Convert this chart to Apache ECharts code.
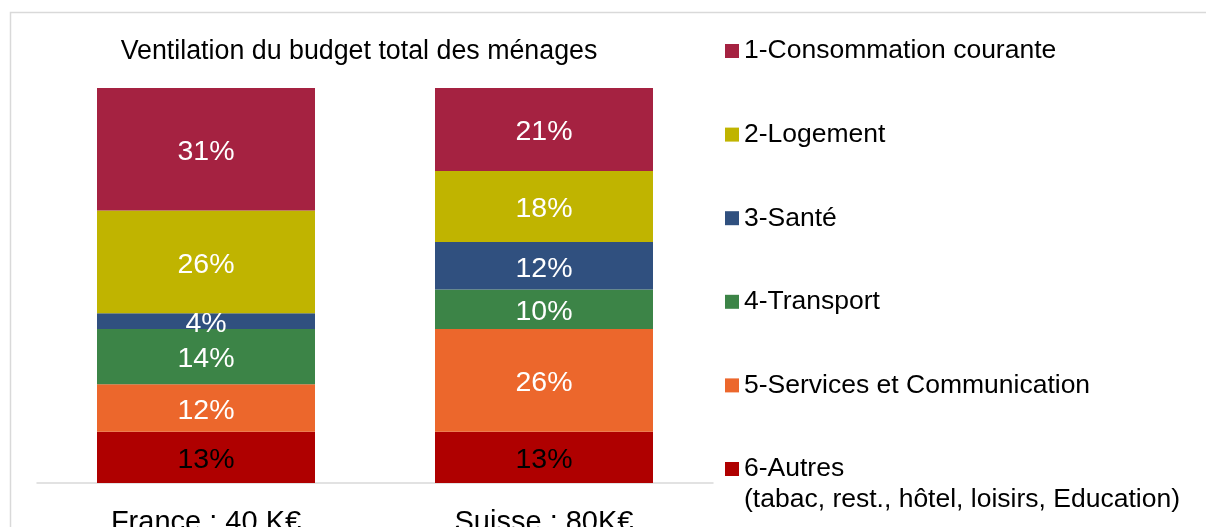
<!DOCTYPE html>
<html>
<head>
<meta charset="utf-8">
<script src="https://cdn.jsdelivr.net/npm/echarts@6/dist/echarts.min.js"></script>
<style>
  html, body { margin: 0; padding: 0; background: #fff; }
  #budget_chart { width: 1206px; height: 527px; }
</style>
</head>
<body>
<div id="budget_chart"></div>
<script>
// données
let pays = ['France : 40 K€', 'Suisse : 80K€']
let postes = ['1-Consommation courante', '2-Logement', '3-Santé', '4-Transport', '5-Services et Communication', '6-Autres']
let noteAutres = '(tabac, rest., hôtel, loisirs, Education)'
let partFrance = [31, 26, 4, 14, 12, 13]
let partSuisse = [21, 18, 12, 10, 26, 13]
let couleurs = ['#a52241', '#c0b400', '#30507f', '#3c8447', '#ec672c', '#af0000']

let police = '"Liberation Sans", Arial, sans-serif'
let myChart = echarts.init(document.getElementById('budget_chart'))

// empilement : le dernier poste en bas
let series = []
for (let i = postes.length - 1; i >= 0; i--) {
  series.push({
    name: postes[i],
    type: 'bar',
    stack: 'budget',
    barWidth: 218,
    itemStyle: { color: couleurs[i] },
    label: {
      show: true,
      position: 'inside',
      offset: [0, 3],
      formatter: '{c}%',
      fontFamily: police,
      fontSize: 28.5,
      color: i === 5 ? '#000' : '#fff'
    },
    data: [partFrance[i], partSuisse[i]]
  })
}

let option = {
  animation: false,
  title: {
    text: 'Ventilation du budget total des ménages',
    left: 359,
    top: 38,
    padding: 0,
    textAlign: 'center',
    textStyle: { fontFamily: police, fontSize: 26.8, fontWeight: 'normal', color: '#000' }
  },
  legend: {
    orient: 'vertical',
    left: 725,
    top: 36,
    padding: 0,
    icon: 'rect',
    itemWidth: 14,
    itemHeight: 14,
    itemGap: 53.6,
    data: postes,
    textStyle: { fontFamily: police, fontSize: 26.5, color: '#000', lineHeight: 30 }
  },
  grid: { left: 37, top: 88, width: 676, height: 395, outerBoundsMode: 'none' },
  xAxis: {
    type: 'category',
    data: pays,
    axisTick: { show: false },
    axisLine: { lineStyle: { color: '#d9d9d9', width: 1.5 } },
    axisLabel: { fontFamily: police, fontSize: 29, color: '#000', margin: 25 }
  },
  yAxis: { type: 'value', min: 0, max: 100, show: false },
  graphic: [
    {
      type: 'rect',
      shape: { x: 10.5, y: 12.5, width: 1400, height: 700 },
      style: { fill: 'none', stroke: '#d9d9d9', lineWidth: 1.5 },
      silent: true
    },
    {
      type: 'text',
      left: 744,
      top: 486,
      style: { text: noteAutres, font: '26.5px ' + police, fill: '#000' }
    }
  ],
  series: series
}
myChart.setOption(option)
</script>
</body>
</html>
